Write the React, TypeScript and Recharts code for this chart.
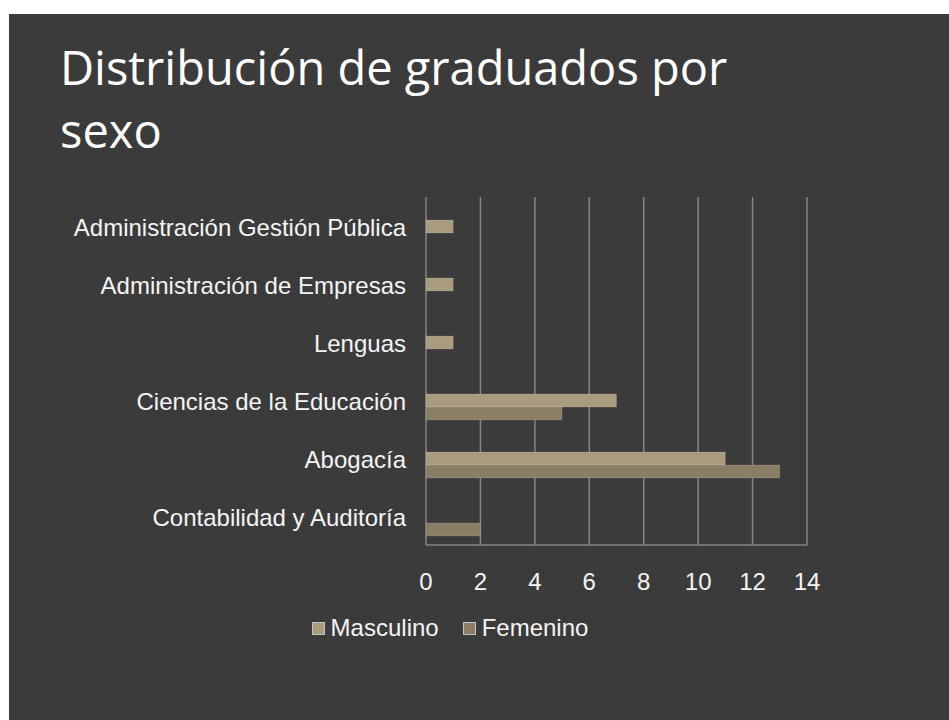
import { BarChart, Bar, XAxis, YAxis, CartesianGrid, Legend } from 'recharts';

const categories = [
  'Administración Gestión Pública',
  'Administración de Empresas',
  'Lenguas',
  'Ciencias de la Educación',
  'Abogacía',
  'Contabilidad y Auditoría',
];
const masculino = [1, 1, 1, 7, 11, 0];
const femenino = [0, 0, 0, 5, 13, 2];
const xTicks = [0, 2, 4, 6, 8, 10, 12, 14];

const data = categories.map((name, i) => ({ name, masculino: masculino[i], femenino: femenino[i] }));

const MASC = '#a99c7e';
const FEM = '#8a7f66';
const GRID = '#858585';
const LABEL_FONT = '"Liberation Sans", Arial, sans-serif';

// excel draws the bar pair a bit below the category centre
const ShiftedBar = (props: any) => {
  const { x, y, width, height, fill } = props;
  if (!width || width <= 0) return null;
  return <rect x={x} y={y + 7} width={width} height={height} fill={fill} stroke="rgba(255,255,255,0.12)" strokeWidth={1} />;
};

const CategoryTick = (props: any) => {
  const { x, y, payload } = props;
  return (
    <text x={x - 18} y={y} dy="0.4em" textAnchor="end" fill="#f4f4f4" fontSize={24} fontFamily={LABEL_FONT}>
      {payload.value}
    </text>
  );
};

const ValueTick = (props: any) => {
  const { x, y, payload } = props;
  return (
    <text x={x} y={y + 43} textAnchor="middle" fill="#f4f4f4" fontSize={24} fontFamily={LABEL_FONT}>
      {payload.value}
    </text>
  );
};

const legendItems = [
  { label: 'Masculino', color: MASC },
  { label: 'Femenino', color: FEM },
];

const LegendContent = () => (
  <div style={{ display: 'flex', justifyContent: 'center', alignItems: 'center', height: 28 }}>
    {legendItems.map((it, i) => (
      <div key={it.label} style={{ display: 'flex', alignItems: 'center', marginLeft: i ? 24 : 0 }}>
        <span style={{ width: 11, height: 11, background: it.color, border: '1px solid #c4c4c4', marginRight: 6 }} />
        <span style={{ color: '#f4f4f4', fontSize: 24, fontFamily: LABEL_FONT }}>{it.label}</span>
      </div>
    ))}
  </div>
);

export default function App() {
  return (
    <div style={{ position: 'absolute', left: 9, top: 14, width: 940, height: 706, background: '#3b3b3b', overflow: 'hidden' }}>
      <div
        style={{
          position: 'absolute',
          left: 51,
          top: 22,
          color: '#ffffff',
          fontFamily: '"Open Sans", sans-serif',
          fontSize: 47,
          lineHeight: '63px',
          whiteSpace: 'nowrap',
        }}
      >
        Distribución de graduados por
        <br />
        sexo
      </div>
      <div style={{ position: 'absolute', left: 0, top: 0 }}>
        <BarChart
          width={940}
          height={706}
          data={data}
          layout="vertical"
          margin={{ top: 183, right: 142, left: 0, bottom: 87 }}
          barSize={13}
          barGap={0}
        >
          <CartesianGrid horizontal={false} stroke={GRID} strokeWidth={1.5} />
          <XAxis
            type="number"
            domain={[0, 14]}
            ticks={xTicks}
            height={60}
            tickLine={false}
            tickSize={0}
            axisLine={{ stroke: GRID, strokeWidth: 1.5 }}
            tick={<ValueTick />}
          />
          <YAxis
            type="category"
            dataKey="name"
            width={417}
            axisLine={false}
            tickLine={false}
            tickSize={0}
            interval={0}
            tick={<CategoryTick />}
          />
          <Legend
            verticalAlign="bottom"
            content={<LegendContent />}
            wrapperStyle={{ left: 0, width: 882, top: 600, bottom: 'auto', height: 28 }}
          />
          <Bar dataKey="masculino" name="Masculino" fill={MASC} shape={<ShiftedBar />} isAnimationActive={false} />
          <Bar dataKey="femenino" name="Femenino" fill={FEM} shape={<ShiftedBar />} isAnimationActive={false} />
        </BarChart>
      </div>
    </div>
  );
}
